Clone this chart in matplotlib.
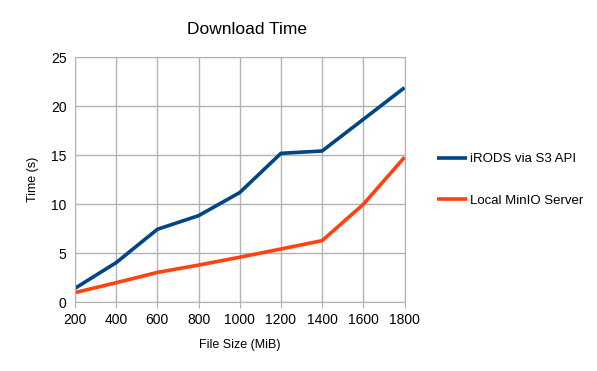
import matplotlib
matplotlib.use("Agg")
from matplotlib import pyplot as plt

plt.rcParams['font.family'] = ['Liberation Sans', 'DejaVu Sans']

file_size = [200, 400, 600, 800, 1000, 1200, 1400, 1600, 1800]
irods_s3 = [1.43, 4.05, 7.45, 8.84, 11.2, 15.2, 15.44, 18.67, 21.9]
local_minio = [0.99, 2.0, 3.05, 3.8, 4.6, 5.44, 6.29, 10.0, 14.8]

fig = plt.figure(figsize=(5.97, 3.71), dpi=100)
ax = fig.add_axes([75/597, 1-302.3/371, 329.5/597, 245/371])

ax.plot(file_size, irods_s3, color='#004586', linewidth=2.6, label='iRODS via S3 API', solid_capstyle='butt')
ax.plot(file_size, local_minio, color='#ff420e', linewidth=2.6, label='Local MinIO Server', solid_capstyle='butt')

ax.set_xlim(200, 1800)
ax.set_ylim(0, 25)
ax.set_xticks(file_size)
ax.set_yticks([0, 5, 10, 15, 20, 25])
ax.grid(True, color='#b3b3b3', linewidth=1)
ax.set_axisbelow(True)
for s in ax.spines.values():
    s.set_color('#b3b3b3')
ax.tick_params(axis='x', length=4, color='#b3b3b3', labelsize=10, pad=4)
ax.tick_params(axis='y', length=0, labelsize=10, pad=6)

ax.set_xlabel('File Size (MiB)', fontsize=9, labelpad=8)
ax.set_ylabel('Time (s)', fontsize=9, labelpad=9)
fig.text(247/597, 1-30/371, 'Download Time', fontsize=12.5, ha='center', va='center')

fig.legend(loc='center left', bbox_to_anchor=(425/597, 1-180/371), frameon=False,
           fontsize=9.5, handlelength=2.3, handletextpad=0.2, labelspacing=2.2)

plt.savefig('out.png', dpi=100)
